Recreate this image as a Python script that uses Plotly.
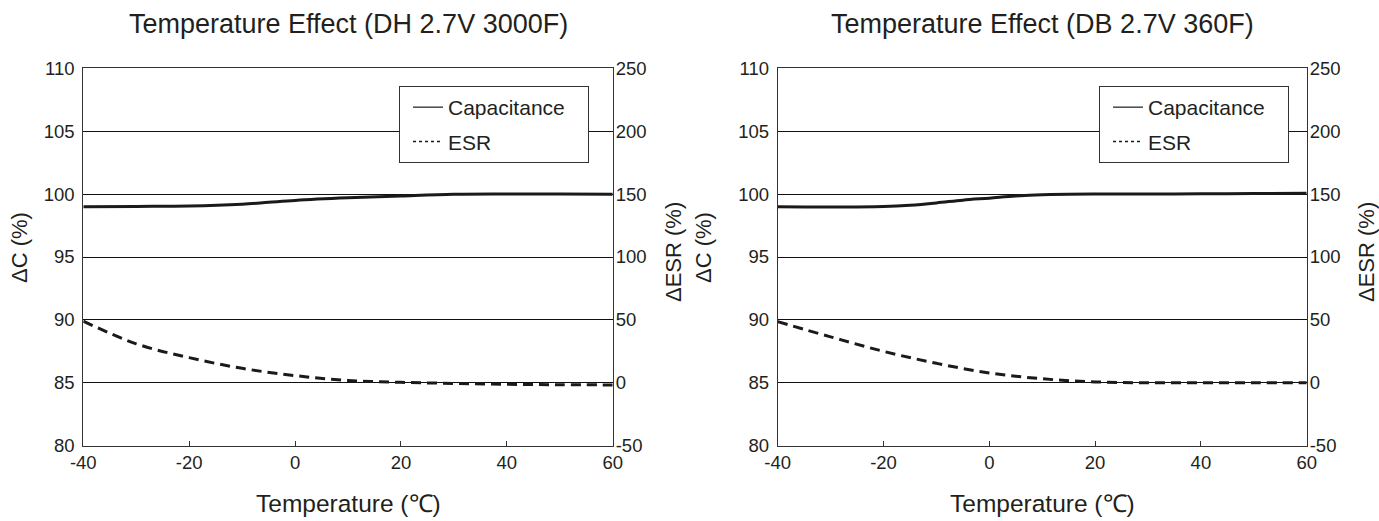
import plotly.graph_objects as go

# ---- data ----
temp_cap_dh = [-40, -30, -20, -10, -5, 0, 10, 20, 30, 40, 50, 60]
cap_dh = [99.0, 99.02, 99.05, 99.2, 99.35, 99.5, 99.7, 99.85, 99.98, 100.0, 100.0, 99.98]
temp_esr_dh = [-40, -30, -20, -10, 0, 10, 20, 30, 40, 50, 60]
esr_dh = [49, 31, 20, 11.5, 5.7, 1.9, 0.4, -0.5, -1.2, -1.5, -1.7]

temp_cap_db = [-40, -30, -20, -15, -10, -5, 0, 5, 10, 20, 30, 40, 50, 60]
cap_db = [99.0, 98.98, 99.02, 99.12, 99.3, 99.52, 99.68, 99.85, 99.95, 100.0, 100.0, 100.02, 100.04, 100.06]
temp_esr_db = [-40, -30, -20, -10, 0, 10, 20, 30, 40, 50, 60]
esr_db = [48.6, 36.5, 25, 15.5, 7.8, 3.2, 0.7, 0, 0, 0, 0]

titles = ["Temperature Effect (DH 2.7V 3000F)", "Temperature Effect (DB 2.7V 360F)"]
x_ticks = [-40, -20, 0, 20, 40, 60]
x_ticktext = ["-40", "-20", "0", "20", "40", "60"]
y_ticks = [80, 85, 90, 95, 100, 105, 110]
y2_ticks = [-50, 0, 50, 100, 150, 200, 250]
y2_ticktext = ["-50", "0", "50", "100", "150", "200", "250"]

W, H = 1379, 521
FONT = "Liberation Sans, Arial, sans-serif"
TXT = "#231f20"
LINE = "#333333"
TICKSIZE = 18.5

fig = go.Figure()

panels = [
    dict(tc=temp_cap_dh, c=cap_dh, te=temp_esr_dh, e=esr_dh, xa="x", ya="y", ya2="y2", lg="legend"),
    dict(tc=temp_cap_db, c=cap_db, te=temp_esr_db, e=esr_db, xa="x2", ya="y3", ya2="y4", lg="legend2"),
]

for p in panels:
    fig.add_trace(go.Scatter(x=p["tc"], y=p["c"], mode="lines", line=dict(color="#1a1a1a", width=3, shape="spline"),
                             xaxis=p["xa"], yaxis=p["ya"], showlegend=False, hoverinfo="skip"))
    fig.add_trace(go.Scatter(x=p["te"], y=p["e"], mode="lines",
                             line=dict(color="#1a1a1a", width=3, shape="spline", dash="10px,6px"),
                             xaxis=p["xa"], yaxis=p["ya2"], showlegend=False, hoverinfo="skip"))
    # legend entries
    fig.add_trace(go.Scatter(x=[None], y=[None], mode="lines", name="Capacitance\u00a0\u00a0\u00a0",
                             line=dict(color="#1a1a1a", width=1.2), xaxis=p["xa"], yaxis=p["ya"],
                             legend=p["lg"], legendgroup="c"))
    fig.add_trace(go.Scatter(x=[None], y=[None], mode="lines", name="ESR",
                             line=dict(color="#1a1a1a", width=1.5, dash="dot"), xaxis=p["xa"], yaxis=p["ya"],
                             legend=p["lg"], legendgroup="e"))

ybot, ytop = 445.7, 68.3
ydom = [(H - ybot) / H, (H - ytop) / H]
xdoms = [[83.3 / W, 612.7 / W], [777.7 / W, 1306.7 / W]]

def xax(dom, anchor):
    return dict(domain=dom, anchor=anchor, range=[-40, 60], tickvals=x_ticks, ticktext=x_ticktext,
                ticks="inside", ticklen=5, automargin=False,
                tickcolor=LINE, tickwidth=1, showline=True, linecolor=LINE, linewidth=1, mirror=True,
                showgrid=False, zeroline=False, tickfont=dict(size=TICKSIZE, color=TXT, family=FONT))

def yax(anchor):
    return dict(domain=ydom, anchor=anchor, range=[80, 110], tickvals=y_ticks, ticks="", showline=True,
                automargin=False,
                linecolor=LINE, linewidth=1, mirror=True, showgrid=True, gridcolor="#111111", gridwidth=1,
                zeroline=False, tickfont=dict(size=TICKSIZE, color=TXT, family=FONT), ticklabelstandoff=4)

def y2ax(anchor, over):
    return dict(overlaying=over, anchor=anchor, side="right", range=[-50, 250], tickvals=y2_ticks,
                ticktext=y2_ticktext, ticks="", automargin=False,
                showline=False, showgrid=False, zeroline=False,
                tickfont=dict(size=TICKSIZE, color=TXT, family=FONT), ticklabelstandoff=2)

def leg(xr):
    return dict(x=xr / W, y=1 - 86 / H, xanchor="right", yanchor="top", bgcolor="white",
                bordercolor=LINE, borderwidth=1, font=dict(size=21, color=TXT, family=FONT),
                indentation=8, tracegroupgap=4)

fig.update_layout(
    width=W, height=H, margin=dict(l=0, r=0, t=0, b=0, autoexpand=False),
    paper_bgcolor="white", plot_bgcolor="white",
    font=dict(family=FONT, color=TXT),
    xaxis=xax(xdoms[0], "y"), yaxis=yax("x"), yaxis2=y2ax("x", "y"),
    xaxis2=xax(xdoms[1], "y3"), yaxis3=yax("x2"), yaxis4=y2ax("x2", "y3"),
    legend=leg(589), legend2=leg(1289),
)

ann = []
centers = [(83.3 + 612.7) / 2, (777.7 + 1306.7) / 2]
for i, cx in enumerate(centers):
    ann.append(dict(text=titles[i], x=cx / W, y=1 - 24 / H, xref="paper", yref="paper", showarrow=False,
                    xanchor="center", yanchor="middle", font=dict(size=27, color=TXT, family=FONT)))
    ann.append(dict(text="Temperature (℃)", x=cx / W, y=1 - 503 / H, xref="paper", yref="paper",
                    showarrow=False, xanchor="center", yanchor="middle",
                    font=dict(size=24.5, color=TXT, family=FONT)))
left_title_x = [19, 703]
right_title_x = [673, 1366]
for i in range(2):
    ann.append(dict(text="ΔC (%)", x=left_title_x[i] / W, y=1 - 248 / H, xref="paper", yref="paper",
                    showarrow=False, textangle=-90, xanchor="center", yanchor="middle",
                    font=dict(size=22, color=TXT, family=FONT)))
    ann.append(dict(text="ΔESR (%)", x=right_title_x[i] / W, y=1 - 252 / H, xref="paper", yref="paper",
                    showarrow=False, textangle=-90, xanchor="center", yanchor="middle",
                    font=dict(size=22, color=TXT, family=FONT)))
fig.update_layout(annotations=ann)

fig.write_html("out.html", config={"displayModeBar": False},
               post_script="document.body.style.margin='0px';document.body.style.overflow='hidden';")
